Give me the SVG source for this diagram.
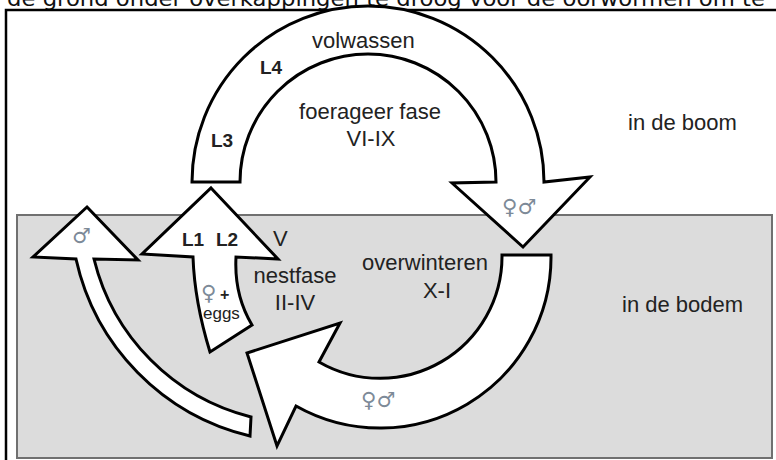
<svg xmlns="http://www.w3.org/2000/svg" width="776" height="460" viewBox="0 0 776 460">
<style>
.t{font-family:"Liberation Sans",Arial,sans-serif;font-size:22px;fill:#222}
.b{font-family:"Liberation Sans",Arial,sans-serif;font-size:19px;font-weight:bold;fill:#222}
.sym{font-family:"DejaVu Sans",sans-serif;font-size:21px;fill:#7d8a98}
.arr{fill:#fff;stroke:#000;stroke-width:3;stroke-linejoin:miter}
</style>
<rect width="776" height="460" fill="#fff"/>
<text x="7" y="6" font-family="DejaVu Sans,sans-serif" font-size="21" fill="#111" textLength="758" lengthAdjust="spacingAndGlyphs">de grond onder overkappingen te droog voor de oorwormen om te</text>
<rect x="6" y="10" width="790" height="470" fill="none" stroke="#000" stroke-width="2.5"/>
<g id="bodem">
<rect x="17" y="215" width="755" height="243" fill="#dcdcdc" stroke="#707070" stroke-width="2"/>
</g>
<g id="connectors">
<path id="arch" class="arr" d="M192,182 A176,176 0 0 1 544,182 L590,177 L523,247 L452,183 L496,182 A128,128 0 0 0 240,182 Z"/>
<path id="winter" class="arr" d="M502,255 L551,255 A171,171 0 0 1 296,406 L277,446 L247,353 L340,323 L319,362 A122,122 0 0 0 502,255 Z"/>
<path id="nest" class="arr" d="M211,188 L278,259 L236,257 Q234,295 252,325 L210,352 Q194.5,301.5 193,257 L142,254 Z"/>
<path id="male" class="arr" d="M87,207 L138,260 L94,259 A216,216 0 0 0 251,417 L250,436 A234,234 0 0 1 76,259 L33,257 Z"/>
</g>
<g id="volwassen">
<text class="t" x="312" y="48">volwassen</text>
<text class="b" x="260" y="74">L4</text>
<text class="b" x="211" y="147">L3</text>
</g>
<g id="foerageer">
<text class="t" x="370" y="119" text-anchor="middle">foerageer fase</text>
<text class="t" x="371" y="146" text-anchor="middle">VI-IX</text>
</g>
<g id="boom">
<text class="t" x="628" y="130">in de boom</text>
</g>
<g id="nestfase">
<text class="b" x="182" y="246">L1</text>
<text class="b" x="216" y="246">L2</text>
<text class="t" x="273" y="246">V</text>
<text class="t" x="295" y="283" text-anchor="middle">nestfase</text>
<text class="t" x="295" y="310" text-anchor="middle">II-IV</text>
<text class="sym" x="201" y="300">♀</text>
<text x="220" y="300" font-family="Liberation Sans,Arial,sans-serif" font-size="16" font-weight="bold" fill="#222">+</text>
<text x="203" y="319" font-family="Liberation Sans,Arial,sans-serif" font-size="17" fill="#222">eggs</text>
</g>
<g id="overwinteren">
<text class="t" x="362" y="270">overwinteren</text>
<text class="t" x="437" y="298" text-anchor="middle">X-I</text>
</g>
<g id="bodemlabel">
<text class="t" x="622" y="312">in de bodem</text>
</g>
<g id="symbols">
<text class="sym" x="502" y="214">♀♂</text>
<text class="sym" x="361" y="407">♀♂</text>
<text class="sym" x="72" y="243">♂</text>
</g>
</svg>
